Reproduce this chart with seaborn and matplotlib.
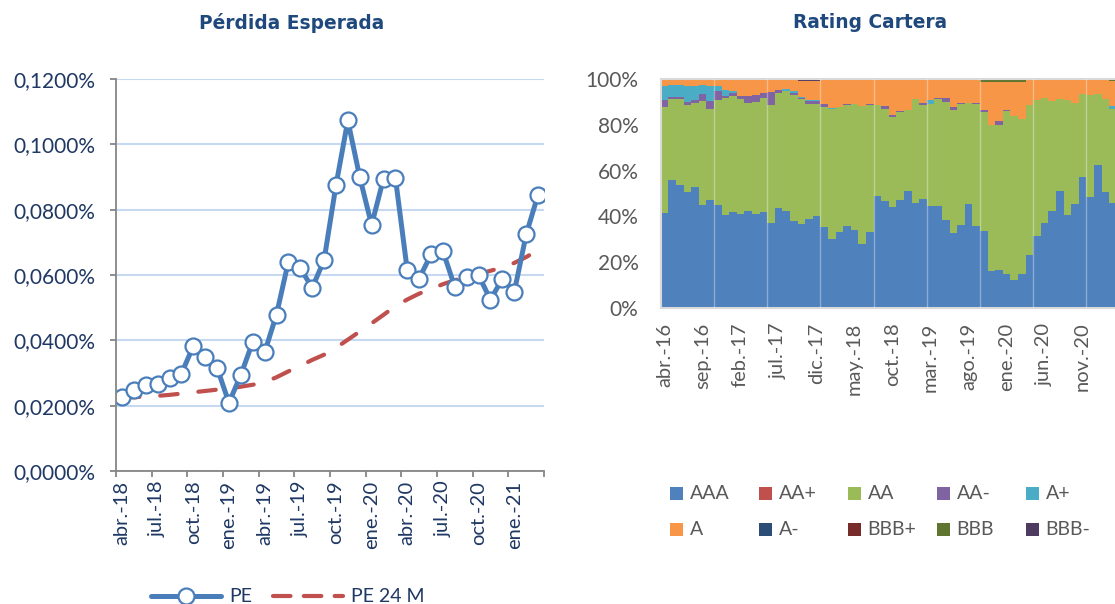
import numpy as np
import pandas as pd
import matplotlib
matplotlib.use("Agg")
import matplotlib.pyplot as plt
import seaborn as sns
from matplotlib.lines import Line2D
from matplotlib.patches import Rectangle

# ---------------- data: Pérdida Esperada (monthly, abr.-18 .. mar.-21), values in % ----------------
pe = [0.0227, 0.0247, 0.0262, 0.0267, 0.0286, 0.0298, 0.0382, 0.0349, 0.0316, 0.0209,
      0.0294, 0.0395, 0.0363, 0.0479, 0.0641, 0.0621, 0.0561, 0.0645, 0.0874, 0.1073,
      0.0900, 0.0753, 0.0895, 0.0898, 0.0614, 0.0589, 0.0663, 0.0673, 0.0563, 0.0594,
      0.0599, 0.0524, 0.0589, 0.0548, 0.0724, 0.0846]
pe24 = [0.0224, 0.0226, 0.0228, 0.0230, 0.0233, 0.0237, 0.0241, 0.0245, 0.0249, 0.0253,
        0.0258, 0.0264, 0.0272, 0.0287, 0.0305, 0.0322, 0.0340, 0.0356, 0.0377, 0.0402,
        0.0427, 0.0452, 0.0478, 0.0505, 0.0525, 0.0543, 0.0557, 0.0572, 0.0584, 0.0594,
        0.0603, 0.0613, 0.0623, 0.0637, 0.0655, 0.0676]
pe_labels = ['abr.-18', 'jul.-18', 'oct.-18', 'ene.-19', 'abr.-19', 'jul.-19',
             'oct.-19', 'ene.-20', 'abr.-20', 'jul.-20', 'oct.-20', 'ene.-21']

# ---------------- data: Rating Cartera (monthly, abr.-16 .. mar.-21), % of portfolio ----------------
rating_labels = ['abr.-16', 'sep.-16', 'feb.-17', 'jul.-17', 'dic.-17', 'may.-18',
                 'oct.-18', 'mar.-19', 'ago.-19', 'ene.-20', 'jun.-20', 'nov.-20']
ratings = ['AAA', 'AA+', 'AA', 'AA-', 'A+', 'A', 'A-', 'BBB+', 'BBB', 'BBB-']
r_aaa = [41.6, 56.0, 53.9, 50.5, 52.8, 45.1, 47.3, 45.1, 40.8, 41.9,
         41.2, 42.5, 40.9, 41.9, 37.3, 43.7, 42.5, 37.8, 36.8, 39.0,
         40.0, 35.4, 30.3, 33.0, 35.8, 34.2, 28.1, 33.0, 48.8, 46.7,
         44.3, 47.3, 51.1, 46.0, 47.6, 44.7, 44.7, 38.3, 32.6, 36.4,
         45.4, 36.0, 33.6, 16.0, 16.6, 14.7, 12.2, 14.7, 23.0, 31.6,
         37.3, 42.4, 50.9, 40.5, 45.6, 57.2, 48.3, 62.6, 50.8, 45.9]
r_aap = [0.0] * 60
r_aa = [46.3, 35.1, 37.2, 38.3, 36.7, 45.3, 39.7, 45.6, 50.9, 50.5,
        50.2, 47.0, 49.1, 49.9, 51.3, 50.3, 52.1, 55.4, 54.6, 50.2,
        49.2, 52.5, 56.5, 54.9, 52.7, 54.8, 60.1, 55.8, 39.7, 40.1,
        39.0, 38.3, 35.5, 45.1, 41.2, 44.3, 46.4, 51.5, 54.0, 52.7,
        44.1, 53.1, 52.0, 63.8, 63.2, 71.2, 71.5, 68.0, 65.5, 59.4,
        54.4, 47.8, 40.2, 50.5, 44.1, 36.1, 44.9, 31.0, 40.3, 41.1]
r_aam = [2.9, 1.2, 1.2, 1.3, 1.3, 2.9, 3.5, 4.1, 0.7, 1.6,
         1.2, 3.2, 3.2, 2.2, 5.7, 1.0, 0.3, 0.9, 0.3, 1.0,
         1.0, 1.0, 0.3, 0.0, 0.6, 0.3, 0.0, 0.3, 0.3, 1.2,
         0.9, 0.5, 0.0, 0.0, 0.7, 0.3, 0.7, 1.7, 1.2, 0.5,
         0.0, 0.3, 0.7, 0.0, 1.7, 0.4, 0.0, 0.0, 0.0, 0.0,
         0.0, 0.0, 0.0, 0.0, 0.0, 0.0, 0.0, 0.0, 0.0, 0.0]
r_ap = [6.1, 4.9, 5.1, 7.0, 6.3, 4.2, 6.4, 2.0, 2.8, 0.9,
        0.0, 0.0, 0.0, 0.0, 0.0, 0.0, 0.6, 0.6, 0.6, 0.6,
        0.6, 0.0, 0.4, 0.0, 0.0, 0.0, 0.0, 0.0, 0.0, 0.0,
        0.0, 0.0, 0.0, 0.0, 0.0, 1.5, 0.0, 0.0, 0.0, 0.0,
        0.0, 0.0, 0.0, 0.0, 0.0, 0.0, 0.0, 0.0, 0.0, 0.0,
        0.0, 0.0, 0.0, 0.0, 0.0, 0.0, 0.0, 0.0, 0.0, 1.0]
r_a = [3.1, 2.8, 2.6, 2.9, 2.9, 2.5, 3.1, 3.2, 4.8, 5.1,
       7.4, 7.3, 6.8, 6.0, 5.7, 5.0, 4.5, 5.3, 6.8, 8.3,
       8.3, 11.1, 12.5, 12.1, 10.9, 10.7, 11.8, 10.9, 11.2, 12.0,
       15.8, 13.9, 13.4, 8.9, 10.5, 9.2, 8.2, 8.5, 12.2, 10.4,
       10.5, 10.0, 12.3, 18.8, 17.1, 12.3, 14.9, 15.9, 11.5, 9.0,
       8.3, 9.8, 8.9, 9.0, 10.3, 6.7, 6.8, 6.4, 8.9, 11.1]
r_am = [0.0] * 60
r_bbbp = [0.0] * 60
r_bbb = [0.0] * 41 + [0.6, 1.4, 1.4, 1.4, 1.4, 1.4, 1.4] + [0.0] * 11 + [0.9]
r_bbbm = [0.0] * 18 + [0.9, 0.9, 0.9] + [0.0] * 39

rating_series = [r_aaa, r_aap, r_aa, r_aam, r_ap, r_a, r_am, r_bbbp, r_bbb, r_bbbm]
rating_colors = ['#4F81BD', '#C0504D', '#9BBB59', '#8064A2', '#4BACC6',
                 '#F79646', '#2C4D75', '#772C2A', '#5F7530', '#4D3B62']

# ---------------- style ----------------
sns.set_theme(style='white')
plt.rcParams['font.family'] = ['Lato', 'DejaVu Sans']

W, H = 1115, 604
fig = plt.figure(figsize=(W / 100, H / 100), dpi=100)


def rect(l, t, r, b):
    return [l / W, 1 - b / H, (r - l) / W, (b - t) / H]


navy = '#1F3864'
title_col = '#1F497D'
blue = '#4A7EBB'
red = '#C0504D'
gray_txt = '#595959'

# ---------------- left chart ----------------
ax1 = fig.add_axes(rect(116, 79, 544, 471))
n = len(pe)
df = pd.DataFrame({'idx': np.arange(n), 'PE': pe, 'PE 24 M': pe24})

ax1.yaxis.grid(True, color='#C6D9F1', lw=1.5)
ax1.set_axisbelow(True)
sns.lineplot(data=df, x='idx', y='PE 24 M', ax=ax1, color=red, lw=3.0,
             linestyle=(0, (4.2, 5.0)), dash_capstyle='round', legend=False)
sns.lineplot(data=df, x='idx', y='PE', ax=ax1, color=blue, lw=3.6, marker='o',
             markersize=11.5, markerfacecolor='white', markeredgecolor=blue,
             markeredgewidth=1.6, legend=False)

ax1.set_xlim(-0.5, n - 0.5)
ax1.set_ylim(0, 0.12)
yt = np.arange(0, 0.1201, 0.02)
ax1.set_yticks(yt)
ax1.set_yticklabels([f"{v:.4f}%".replace('.', ',') for v in yt])
ax1.set_xticks(np.arange(-0.5, n, 3))
ax1.set_xticks(np.arange(0, n, 3), minor=True)
ax1.set_xticklabels(pe_labels, minor=True, rotation=90)
ax1.set_xlabel('')
ax1.set_ylabel('')
ax1.tick_params(axis='x', which='major', length=4.5, width=1.3, color='#868686',
                labelbottom=False, bottom=True, direction='out')
ax1.tick_params(axis='x', which='minor', length=0, pad=7, labelsize=14.5, labelcolor=navy)
ax1.tick_params(axis='y', length=4.5, width=1.3, color='#868686', left=True,
                direction='out', pad=10.5, labelsize=15, labelcolor=navy)
for s in ['top', 'right']:
    ax1.spines[s].set_visible(False)
for s in ['left', 'bottom']:
    ax1.spines[s].set_color('#868686')
    ax1.spines[s].set_linewidth(1.3)

fig.text(292 / W, 1 - 23 / H, 'Pérdida Esperada', ha='center', va='center',
         fontsize=13.4, fontweight='bold', color=title_col, family='DejaVu Sans')

h_pe = Line2D([], [], color=blue, lw=3.6, marker='o', markersize=11.5,
              markerfacecolor='white', markeredgecolor=blue, markeredgewidth=1.6)
h_pe24 = Line2D([], [], color=red, lw=3.0, linestyle=(0, (4.2, 3.2)), dash_capstyle='round')
fig.legend([h_pe, h_pe24], ['PE', 'PE 24 M'], ncol=2, loc='center',
           bbox_to_anchor=(288 / W, 1 - 597 / H), frameon=False, fontsize=14,
           handlelength=3.6, handletextpad=0.4, columnspacing=1.1, labelcolor=navy,
           borderpad=0)

# ---------------- right chart ----------------
ax2 = fig.add_axes(rect(660.7, 79, 1116.7, 308))
m = len(r_aaa)
xs = np.arange(m)
bottom = np.zeros(m)
for name, vals, col in zip(ratings, rating_series, rating_colors):
    v = np.array(vals)
    ax2.bar(xs, v, bottom=bottom, width=1.0, color=col, linewidth=0, label=name)
    bottom += v

ax2.set_xlim(-0.5, m - 0.5)
ax2.set_ylim(0, 100)
ax2.set_xticks(np.arange(6.5, m, 7))
ax2.xaxis.grid(True, color='white', alpha=0.35, lw=1.0)
ax2.set_axisbelow(False)
ax2.set_xticks(np.arange(0, m, 5), minor=True)
ax2.set_xticklabels(rating_labels, minor=True, rotation=90)
ax2.tick_params(axis='x', which='major', length=0, labelbottom=False)
ax2.tick_params(axis='x', which='minor', length=0, pad=10.5, labelsize=14.5, labelcolor=gray_txt)
ax2.set_yticks(np.arange(0, 101, 20))
ax2.set_yticklabels([f"{v}%" for v in range(0, 101, 20)])
ax2.tick_params(axis='y', length=0, pad=16, labelsize=15, labelcolor=gray_txt)
for s in ax2.spines.values():
    s.set_color('#D9D9D9')
    s.set_linewidth(1.5)

fig.text(870 / W, 1 - 23 / H, 'Rating Cartera', ha='center', va='center',
         fontsize=13.4, fontweight='bold', color=title_col, family='DejaVu Sans')

# legend (row-major, Excel style)
col_x = [670, 759, 848, 937, 1026]
row_y = [493.5, 529.5]
for i, (name, col) in enumerate(zip(ratings, rating_colors)):
    r, c = divmod(i, 5)
    x0, yc = col_x[c], row_y[r]
    fig.add_artist(Rectangle((x0 / W, 1 - (yc + 6.5) / H), 13 / W, 13 / H,
                             transform=fig.transFigure, facecolor=col, edgecolor='none'))
    fig.text((x0 + 19.5) / W, 1 - yc / H, name, ha='left', va='center',
             fontsize=14, color=gray_txt)

fig.savefig('out.png', dpi=100)
